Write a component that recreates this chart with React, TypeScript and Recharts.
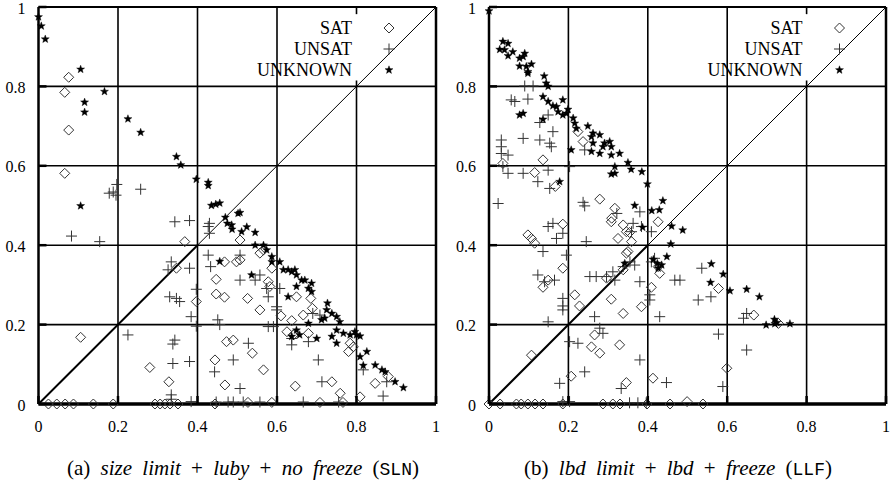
import { ScatterChart, Scatter, XAxis, YAxis, ReferenceLine, Legend } from "recharts";

const TICKS = [0, 0.2, 0.4, 0.6, 0.8, 1];
const SERIES_NAMES = ["SAT", "UNSAT", "UNKNOWN"];

// (a) size limit + luby + no freeze
const slnSat = [
  [0.076, 0.823], [0.066, 0.785], [0.076, 0.69], [0.066, 0.581],
  [0.368, 0.409], [0.347, 0.342], [0.397, 0.258], [0.106, 0.168], [0.28, 0.092], [0.328, 0.056],
  [0.447, 0.314], [0.447, 0.277], [0.468, 0.269], [0.468, 0.358], [0.498, 0.358], [0.473, 0.157],
  [0.444, 0.111], [0.469, 0.048], [0.507, 0.413], [0.507, 0.363], [0.557, 0.38], [0.566, 0.388],
  [0.587, 0.342], [0.578, 0.308], [0.582, 0.296], [0.526, 0.266], [0.557, 0.237], [0.61, 0.222],
  [0.649, 0.27], [0.685, 0.266], [0.689, 0.241], [0.666, 0.224], [0.637, 0.21], [0.625, 0.182],
  [0.641, 0.174], [0.679, 0.178], [0.784, 0.153], [0.792, 0.144], [0.78, 0.132], [0.49, 0.161],
  [0.538, 0.128], [0.566, 0.086], [0.646, 0.045], [0.738, 0.056], [0.759, 0.027], [0.809, 0.018],
  [0.847, 0.052], [0.88, 0.069],
  [0.025, 0], [0.046, 0], [0.067, 0], [0.088, 0], [0.138, 0], [0.188, 0], [0.293, 0], [0.306, 0],
  [0.318, 0], [0.331, 0], [0.351, 0], [0.444, 0], [0.527, 0.004], [0.587, 0.004], [0.708, 0.004],
  [0.766, 0.004],
];
const slnUnsat = [
  [0.178, 0.531], [0.188, 0.534], [0.195, 0.526], [0.197, 0.553], [0.257, 0.541],
  [0.083, 0.423], [0.154, 0.409], [0.343, 0.459], [0.38, 0.462], [0.43, 0.455], [0.427, 0.447],
  [0.43, 0.43], [0.334, 0.358], [0.326, 0.338], [0.38, 0.342], [0.33, 0.27], [0.347, 0.266],
  [0.355, 0.258], [0.397, 0.289], [0.384, 0.22], [0.397, 0.196], [0.225, 0.174], [0.343, 0.161],
  [0.338, 0.151], [0.338, 0.102], [0.38, 0.107], [0.334, 0.023], [0.334, 0.012], [0.384, 0.006],
  [0.427, 0.375], [0.433, 0.346], [0.451, 0.212], [0.456, 0.2], [0.443, 0.081], [0.447, 0.005],
  [0.477, 0.005], [0.49, 0.005], [0.507, 0.375], [0.507, 0.312], [0.557, 0.325], [0.545, 0.312],
  [0.574, 0.291], [0.578, 0.27], [0.607, 0.291], [0.599, 0.245], [0.599, 0.237], [0.578, 0.195],
  [0.591, 0.195], [0.528, 0.153], [0.49, 0.111], [0.507, 0.039], [0.637, 0.165], [0.637, 0.149],
  [0.679, 0.157], [0.704, 0.111], [0.713, 0.056], [0.817, 0.086], [0.876, 0.056], [0.867, 0.02],
  [0.666, 0.005], [0.557, 0.005], [0.515, 0.005], [0.755, 0.005], [0.708, 0.224], [0.69, 0.228],
];
const slnUnknown = [
  [0.0, 0.975], [0.007, 0.952], [0.017, 0.919], [0.106, 0.843], [0.166, 0.787], [0.116, 0.76],
  [0.116, 0.735], [0.225, 0.718], [0.257, 0.684], [0.347, 0.623], [0.358, 0.602], [0.397, 0.566],
  [0.427, 0.558], [0.427, 0.55], [0.435, 0.5], [0.446, 0.503], [0.456, 0.506], [0.106, 0.499],
  [0.47, 0.47], [0.475, 0.455], [0.487, 0.44], [0.456, 0.359], [0.502, 0.48], [0.507, 0.482],
  [0.486, 0.451], [0.511, 0.434], [0.524, 0.446], [0.545, 0.432], [0.545, 0.4], [0.566, 0.4],
  [0.574, 0.388], [0.587, 0.371], [0.587, 0.358], [0.607, 0.358], [0.616, 0.338], [0.628, 0.338],
  [0.637, 0.333], [0.645, 0.338], [0.649, 0.325], [0.662, 0.312], [0.67, 0.312], [0.687, 0.304],
  [0.679, 0.291], [0.687, 0.283], [0.649, 0.296], [0.628, 0.27], [0.536, 0.325], [0.727, 0.254],
  [0.725, 0.237], [0.738, 0.228], [0.75, 0.22], [0.758, 0.207], [0.712, 0.212], [0.72, 0.216],
  [0.75, 0.186], [0.767, 0.178], [0.784, 0.174], [0.8, 0.174], [0.809, 0.171], [0.738, 0.17],
  [0.75, 0.153], [0.826, 0.132], [0.809, 0.119], [0.817, 0.097], [0.847, 0.098], [0.864, 0.086],
  [0.872, 0.081], [0.897, 0.056], [0.918, 0.041], [0.679, 0.203], [0.7, 0.165], [0.649, 0.186],
  [0.657, 0.174], [0.637, 0.17], [0.796, 0.182],
];

// (b) lbd limit + lbd + freeze
const llfSat = [
  [0.035, 0.606], [0.136, 0.615], [0.115, 0.583], [0.167, 0.548], [0.224, 0.686], [0.237, 0.661],
  [0.279, 0.516], [0.317, 0.493], [0.308, 0.459], [0.186, 0.453], [0.098, 0.426], [0.107, 0.417],
  [0.115, 0.405], [0.338, 0.451], [0.346, 0.434], [0.325, 0.417], [0.359, 0.409], [0.35, 0.384],
  [0.346, 0.38], [0.426, 0.459], [0.186, 0.342], [0.149, 0.312], [0.136, 0.294], [0.216, 0.275],
  [0.228, 0.247], [0.308, 0.264], [0.338, 0.228], [0.384, 0.245], [0.409, 0.294], [0.296, 0.317],
  [0.338, 0.338], [0.43, 0.329], [0.426, 0.346], [0.266, 0.174], [0.258, 0.144], [0.279, 0.128],
  [0.329, 0.149], [0.107, 0.123], [0.207, 0.07], [0.346, 0.054], [0.413, 0.065], [0.309, 0.468],
  [0.354, 0.432], [0.578, 0.291], [0.667, 0.224], [0.729, 0.203], [0.599, 0.09],
  [0, 0], [0.028, 0], [0.069, 0], [0.081, 0], [0.098, 0], [0.116, 0], [0.136, 0], [0.186, 0],
  [0.287, 0], [0.312, 0], [0.33, 0], [0.398, 0], [0.456, 0], [0.499, 0.006], [0.539, 0],
];
const llfUnsat = [
  [0.09, 0.801], [0.111, 0.801], [0.056, 0.766], [0.065, 0.762], [0.098, 0.768], [0.031, 0.665],
  [0.031, 0.648], [0.031, 0.631], [0.048, 0.627], [0.086, 0.669], [0.128, 0.665], [0.161, 0.686],
  [0.153, 0.657], [0.157, 0.648], [0.128, 0.709], [0.149, 0.728], [0.048, 0.581], [0.086, 0.581],
  [0.123, 0.56], [0.149, 0.589], [0.153, 0.543], [0.203, 0.598], [0.241, 0.64], [0.023, 0.505],
  [0.237, 0.508], [0.241, 0.499], [0.035, 0.598], [0.149, 0.447], [0.161, 0.455], [0.186, 0.43],
  [0.17, 0.417], [0.136, 0.384], [0.195, 0.375], [0.245, 0.409], [0.123, 0.325], [0.165, 0.312],
  [0.14, 0.308], [0.186, 0.266], [0.186, 0.247], [0.186, 0.237], [0.149, 0.207], [0.254, 0.321],
  [0.27, 0.321], [0.296, 0.321], [0.312, 0.333], [0.317, 0.312], [0.338, 0.346], [0.266, 0.22],
  [0.279, 0.191], [0.287, 0.178], [0.203, 0.157], [0.224, 0.153], [0.38, 0.111], [0.241, 0.081],
  [0.178, 0.052], [0.333, 0.039], [0.363, 0.455], [0.384, 0.447], [0.359, 0.434], [0.409, 0.434],
  [0.38, 0.308], [0.367, 0.35], [0.355, 0.358], [0.43, 0.22], [0.468, 0.312], [0.405, 0.275],
  [0.405, 0.262], [0.409, 0.358], [0.417, 0.367], [0.447, 0.054], [0.38, 0.484], [0.322, 0.48],
  [0.375, 0.003], [0.354, 0.003], [0.396, 0.003], [0.203, 0.006], [0.186, 0.006], [0.536, 0.342],
  [0.527, 0.262], [0.559, 0.27], [0.641, 0.216], [0.649, 0.228], [0.578, 0.176], [0.649, 0.136],
  [0.589, 0.044], [0.481, 0.312],
];
const llfUnknown = [
  [0.0, 0.99], [0.035, 0.913], [0.048, 0.908], [0.027, 0.893], [0.039, 0.892], [0.06, 0.887],
  [0.048, 0.877], [0.077, 0.871], [0.09, 0.883], [0.086, 0.875], [0.077, 0.851], [0.094, 0.85],
  [0.107, 0.856], [0.098, 0.837], [0.098, 0.833], [0.139, 0.826], [0.149, 0.8], [0.144, 0.808],
  [0.136, 0.774], [0.149, 0.762], [0.161, 0.751], [0.17, 0.749], [0.186, 0.766], [0.174, 0.736],
  [0.186, 0.728], [0.195, 0.732], [0.199, 0.742], [0.077, 0.728], [0.086, 0.732], [0.136, 0.717],
  [0.212, 0.72], [0.216, 0.707], [0.22, 0.694], [0.249, 0.7], [0.262, 0.682], [0.258, 0.673],
  [0.279, 0.678], [0.304, 0.661], [0.308, 0.648], [0.291, 0.657], [0.329, 0.631], [0.262, 0.657],
  [0.258, 0.636], [0.279, 0.631], [0.287, 0.648], [0.308, 0.627], [0.207, 0.64], [0.35, 0.608],
  [0.358, 0.591], [0.385, 0.585], [0.317, 0.598], [0.308, 0.579], [0.317, 0.581], [0.399, 0.554],
  [0.178, 0.56], [0.367, 0.5], [0.438, 0.512], [0.41, 0.487], [0.429, 0.489], [0.46, 0.448],
  [0.488, 0.438], [0.387, 0.445], [0.458, 0.403], [0.448, 0.371], [0.414, 0.364], [0.424, 0.354],
  [0.435, 0.35], [0.426, 0.342], [0.342, 0.354], [0.56, 0.353], [0.59, 0.327], [0.558, 0.306],
  [0.607, 0.285], [0.649, 0.289], [0.681, 0.27], [0.698, 0.199], [0.719, 0.213], [0.72, 0.202],
  [0.725, 0.205], [0.758, 0.202],
];

const toPoints = (rows: number[][]) => rows.map(([x, y]) => ({ x, y }));

const SERIF = "'Liberation Serif', 'Times New Roman', Times, 'Nimbus Roman', 'DejaVu Serif', serif";
const MONO = "'Liberation Mono', 'Courier New', 'DejaVu Sans Mono', monospace";

function diamondPath(cx: number, cy: number) {
  return `M${cx},${cy - 5}L${cx + 5},${cy}L${cx},${cy + 5}L${cx - 5},${cy}Z`;
}

function starPath(cx: number, cy: number, r: number) {
  let d = "";
  for (let i = 0; i < 10; i++) {
    const a = (-90 + i * 36) * (Math.PI / 180);
    const rr = i % 2 ? r * 0.42 : r;
    d += `${i ? "L" : "M"}${(cx + rr * Math.cos(a)).toFixed(2)},${(cy + rr * Math.sin(a)).toFixed(2)}`;
  }
  return d + "Z";
}

const Diamond = (p: any) => <path d={diamondPath(p.cx, p.cy)} fill="none" stroke="#333" strokeWidth={1} />;
const Plus = (p: any) => (
  <path d={`M${p.cx - 5.5},${p.cy}h11M${p.cx},${p.cy - 5.5}v11`} stroke="#333" strokeWidth={1} fill="none" />
);
const Star = (p: any) => <path d={starPath(p.cx, p.cy, 4.2)} fill="#000" stroke="#000" strokeWidth={0.4} />;

const XTick = (p: any) => (
  <g>
    <line x1={p.x} y1={p.y} x2={p.x} y2={p.y - 8} stroke="#000" strokeWidth={2.5} />
    <text x={p.x} y={p.y + 22} textAnchor="middle" dominantBaseline="central" style={{ fontFamily: SERIF }} fontSize={16} fill="#000">
      {String(p.payload.value)}
    </text>
  </g>
);

const YTick = (p: any) => (
  <g>
    <line x1={p.x} y1={p.y} x2={p.x + 8} y2={p.y} stroke="#000" strokeWidth={2.5} />
    <text x={p.x - 13} y={p.y + 1} textAnchor="end" dominantBaseline="central" style={{ fontFamily: SERIF }} fontSize={16} fill="#000">
      {String(p.payload.value)}
    </text>
  </g>
);

const symbols = [Diamond, Plus, Star];

function KeyBox({ axisW }: { axisW: number }) {
  const textRight = axisW + 313.5;
  const symX = axisW + 350.5;
  const rows = [28, 49, 70];
  return (
    <svg width={450} height={90} style={{ display: "block" }}>
      {SERIES_NAMES.map((name, i) => {
        const Sym = symbols[i];
        return (
          <g key={name}>
            <text x={textRight} y={rows[i]} textAnchor="end" dominantBaseline="central" style={{ fontFamily: SERIF }} fontSize={18} fill="#000">
              {name}
            </text>
            <Sym cx={symX} cy={rows[i]} />
          </g>
        );
      })}
    </svg>
  );
}

function Panel({ sat, unsat, unknown, axisW }: { sat: number[][]; unsat: number[][]; unknown: number[][]; axisW: number }) {
  const grid = { stroke: "#000", strokeWidth: 1.6 };
  return (
    <ScatterChart width={450} height={440} margin={{ top: 7, right: 14, bottom: 0, left: 0 }}>
      <XAxis
        type="number"
        dataKey="x"
        domain={[0, 1]}
        ticks={TICKS}
        interval={0}
        tickSize={0}
        tickMargin={0}
        axisLine={false}
        tickLine={false}
        tick={<XTick />}
        height={36}
      />
      <YAxis
        type="number"
        dataKey="y"
        domain={[0, 1]}
        ticks={TICKS}
        interval={0}
        tickSize={0}
        tickMargin={0}
        axisLine={false}
        tickLine={false}
        tick={<YTick />}
        width={axisW}
      />
      {[0.2, 0.4, 0.6].map((v) => (
        <ReferenceLine key={`gx${v}`} x={v} {...grid} />
      ))}
      <ReferenceLine segment={[{ x: 0.8, y: 0 }, { x: 0.8, y: 0.815 }]} {...grid} />
      <ReferenceLine segment={[{ x: 0.8, y: 0.982 }, { x: 0.8, y: 1 }]} {...grid} />
      {[0.2, 0.4, 0.6, 0.8].map((v) => (
        <ReferenceLine key={`gy${v}`} y={v} {...grid} />
      ))}
      <ReferenceLine segment={[{ x: 0, y: 0 }, { x: 0.4, y: 0.4 }]} stroke="#000" strokeWidth={2} />
      <ReferenceLine segment={[{ x: 0.4, y: 0.4 }, { x: 1, y: 1 }]} stroke="#000" strokeWidth={1} />
      <ReferenceLine x={0} stroke="#000" strokeWidth={2.5} />
      <ReferenceLine x={1} stroke="#000" strokeWidth={2.5} />
      <ReferenceLine y={1} stroke="#000" strokeWidth={1.8} />
      <ReferenceLine y={0} stroke="#000" strokeWidth={3.5} />
      <Scatter name="SAT" data={toPoints(sat)} shape={<Diamond />} isAnimationActive={false} />
      <Scatter name="UNSAT" data={toPoints(unsat)} shape={<Plus />} isAnimationActive={false} />
      <Scatter name="UNKNOWN" data={toPoints(unknown)} shape={<Star />} isAnimationActive={false} />
      <Legend
        layout="vertical"
        align="center"
        verticalAlign="middle"
        wrapperStyle={{ position: "absolute", left: 0, top: 0, width: 450, height: 90, pointerEvents: "none" }}
        content={() => <KeyBox axisW={axisW} />}
      />
    </ScatterChart>
  );
}

const captionStyle: React.CSSProperties = {
  position: "absolute",
  top: 456,
  width: 450,
  textAlign: "center",
  fontFamily: SERIF,
  fontSize: 21,
  color: "#000",
  whiteSpace: "nowrap",
  wordSpacing: 5,
};
const mono = { fontFamily: MONO, fontSize: 18 };

export default function App() {
  return (
    <div style={{ position: "absolute", left: 0, top: 0, width: 893, height: 487, background: "#fff", fontFamily: SERIF }}>
      <div style={{ position: "absolute", left: 0, top: 0 }}>
        <Panel sat={slnSat} unsat={slnUnsat} unknown={slnUnknown} axisW={38.5} />
      </div>
      <div style={{ position: "absolute", left: 450, top: 0 }}>
        <Panel sat={llfSat} unsat={llfUnsat} unknown={llfUnknown} axisW={39} />
      </div>
      <div style={{ ...captionStyle, left: 18 }}>
        (a) <i>size limit</i> + <i>luby</i> + <i>no freeze</i> (<span style={mono}>SLN</span>)
      </div>
      <div style={{ ...captionStyle, left: 453 }}>
        (b) <i>lbd limit</i> + <i>lbd</i> + <i>freeze</i> (<span style={mono}>LLF</span>)
      </div>
    </div>
  );
}
